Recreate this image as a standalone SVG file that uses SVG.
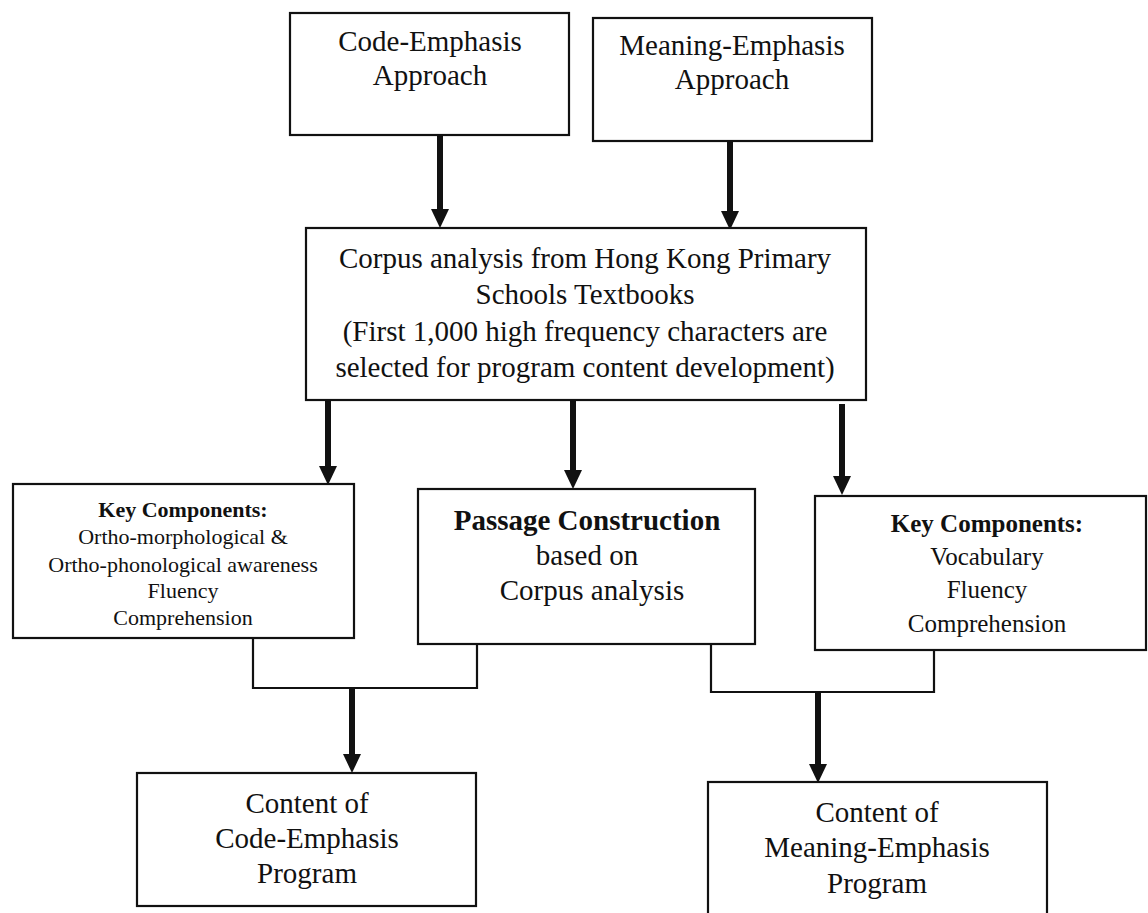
<svg xmlns="http://www.w3.org/2000/svg" width="1148" height="913" viewBox="0 0 1148 913">
  <style>
    .box { fill: #ffffff; stroke: #111111; stroke-width: 2.2; }
    .t { font-family: "Liberation Serif", "Times New Roman", serif; fill: #111111; text-anchor: middle; }
    .big { font-size: 29px; }
    .sm { font-size: 22px; }
    .md { font-size: 25px; }
    .b { font-weight: bold; }
    .shaft { stroke: #111111; stroke-width: 6; fill: none; }
    .thin { stroke: #111111; stroke-width: 2.2; fill: none; }
    .head { fill: #111111; }
  </style>
  <rect x="0" y="0" width="1148" height="913" fill="#ffffff"/>

  <g id="connectors">
    <!-- thick arrows -->
    <line class="shaft" x1="440" y1="136" x2="440" y2="210"/>
    <polygon class="head" points="431,209 449,209 440,228"/>
    <line class="shaft" x1="730" y1="141" x2="730" y2="212"/>
    <polygon class="head" points="721,211 739,211 730,230"/>
    <line class="shaft" x1="328" y1="400" x2="328" y2="467"/>
    <polygon class="head" points="319,466 337,466 328,485"/>
    <line class="shaft" x1="573" y1="401" x2="573" y2="471"/>
    <polygon class="head" points="564,470 582,470 573,489"/>
    <line class="shaft" x1="842" y1="404" x2="842" y2="477"/>
    <polygon class="head" points="833,476 851,476 842,495"/>
    <line class="shaft" x1="352" y1="688" x2="352" y2="755"/>
    <polygon class="head" points="343,754 361,754 352,773"/>
    <line class="shaft" x1="818" y1="692" x2="818" y2="765"/>
    <polygon class="head" points="809,764 827,764 818,783"/>
    <!-- thin joining connectors -->
    <polyline class="thin" points="253,638 253,688 477,688 477,644"/>
    <polyline class="thin" points="711,645 711,692 934,692 934,650"/>
  </g>

  <g id="code-emphasis-approach">
    <rect class="box" x="290" y="13" width="279" height="122"/>
    <text class="t big" x="430" y="51">Code-Emphasis</text>
    <text class="t big" x="430" y="85">Approach</text>
  </g>

  <g id="meaning-emphasis-approach">
    <rect class="box" x="593" y="18" width="279" height="123"/>
    <text class="t big" x="732" y="55">Meaning-Emphasis</text>
    <text class="t big" x="732" y="89">Approach</text>
  </g>

  <g id="corpus-analysis">
    <rect class="box" x="306" y="228" width="560" height="172"/>
    <text class="t big" x="585" y="268">Corpus analysis from Hong Kong Primary</text>
    <text class="t big" x="585" y="304">Schools Textbooks</text>
    <text class="t big" x="585" y="341">(First 1,000 high frequency characters are</text>
    <text class="t big" x="585" y="377">selected for program content development)</text>
  </g>

  <g id="code-key-components">
    <rect class="box" x="13" y="484" width="341" height="154"/>
    <text class="t sm b" x="183" y="517">Key Components:</text>
    <text class="t sm" x="183" y="544">Ortho-morphological &amp;</text>
    <text class="t sm" x="183" y="572">Ortho-phonological awareness</text>
    <text class="t sm" x="183" y="598">Fluency</text>
    <text class="t sm" x="183" y="625">Comprehension</text>
  </g>

  <g id="passage-construction">
    <rect class="box" x="418" y="489" width="337" height="155"/>
    <text class="t big b" x="587" y="530">Passage Construction</text>
    <text class="t big" x="587" y="565">based on</text>
    <text class="t big" x="592" y="600">Corpus analysis</text>
  </g>

  <g id="meaning-key-components">
    <rect class="box" x="815" y="496" width="331" height="154"/>
    <text class="t md b" x="987" y="532">Key Components:</text>
    <text class="t md" x="987" y="565">Vocabulary</text>
    <text class="t md" x="987" y="598">Fluency</text>
    <text class="t md" x="987" y="632">Comprehension</text>
  </g>

  <g id="code-emphasis-program">
    <rect class="box" x="137" y="773" width="339" height="133"/>
    <text class="t big" x="307" y="813">Content of</text>
    <text class="t big" x="307" y="848">Code-Emphasis</text>
    <text class="t big" x="307" y="883">Program</text>
  </g>

  <g id="meaning-emphasis-program">
    <rect class="box" x="708" y="782" width="339" height="136"/>
    <text class="t big" x="877" y="822">Content of</text>
    <text class="t big" x="877" y="857">Meaning-Emphasis</text>
    <text class="t big" x="877" y="893">Program</text>
  </g>
</svg>
